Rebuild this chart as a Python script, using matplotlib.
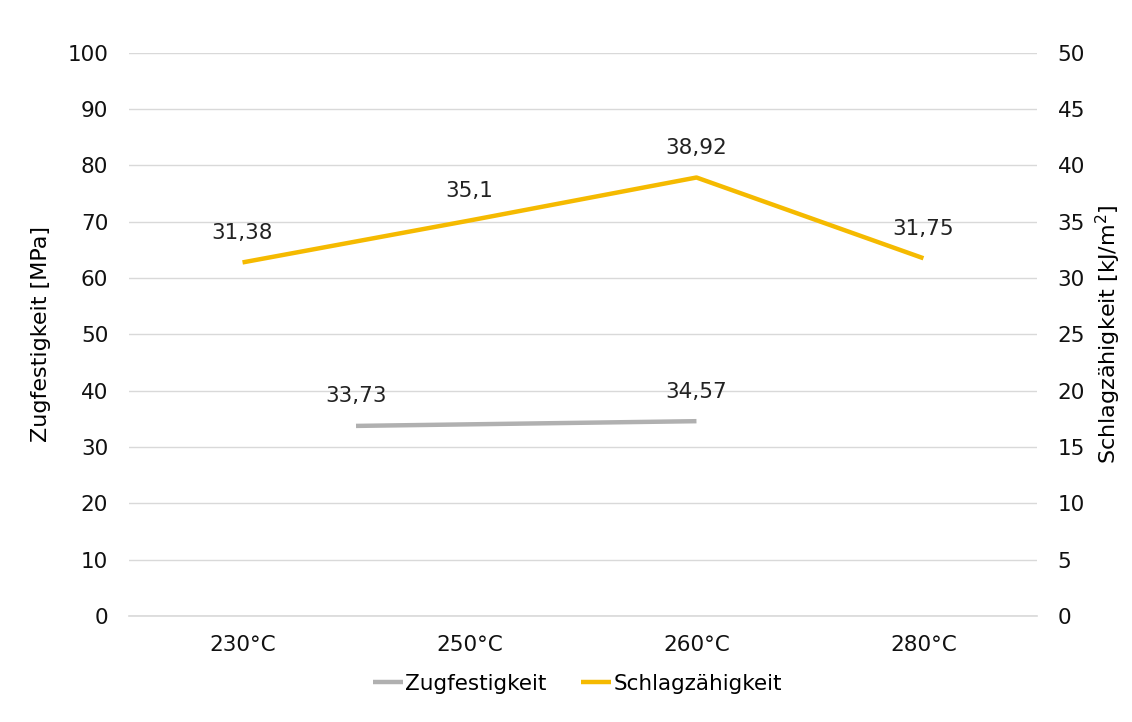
import matplotlib.pyplot as plt

# Data
temps = ['230°C', '250°C', '260°C', '280°C']
schlag = [31.38, 35.1, 38.92, 31.75]
schlag_labels = ['31,38', '35,1', '38,92', '31,75']
zug_pos = [0.5, 2.0]
zug = [33.73, 34.57]
zug_labels = ['33,73', '34,57']

plt.rcParams['font.family'] = ['DejaVu Sans']

fig = plt.figure(figsize=(11.32, 7.22), dpi=100)
ax = fig.add_axes([0.114, 0.147, 0.802, 0.78])
ax2 = ax.twinx()

grey = '#B0B0B0'
yellow = '#F5BA00'

# Zugfestigkeit on left axis
ax.plot(zug_pos, zug, color=grey, lw=3.2, solid_capstyle='butt', label='Zugfestigkeit')
for x, y, t in zip(zug_pos, zug, zug_labels):
    ax.annotate(t, (x, y), xytext=(0, 14), textcoords='offset points',
                ha='center', va='bottom', fontsize=15.5, color='#222222')

# Schlagzähigkeit on right axis
xs = list(range(len(temps)))
ax2.plot(xs, schlag, color=yellow, lw=3.2, solid_capstyle='butt', label='Schlagzähigkeit')
for x, y, t in zip(xs, schlag, schlag_labels):
    ax2.annotate(t, (x, y), xytext=(0, 14), textcoords='offset points',
                 ha='center', va='bottom', fontsize=15.5, color='#222222')

ax.set_xlim(-0.5, 3.5)
ax.set_ylim(0, 100)
ax2.set_ylim(0, 50)
ax.set_yticks(range(0, 101, 10))
ax2.set_yticks(range(0, 51, 5))
ax.set_xticks(xs)
ax.set_xticklabels(temps)

ax.grid(axis='y', color='#D9D9D9', lw=1)
ax.axhline(0, color='#D9D9D9', lw=1.2, clip_on=False, zorder=0.5)
ax.set_axisbelow(True)
for a in (ax, ax2):
    for s in a.spines.values():
        s.set_visible(False)
    a.tick_params(length=0, labelsize=15.5, colors='#111111')
ax.tick_params(axis='y', pad=15)
ax2.tick_params(axis='y', pad=15)
ax.tick_params(axis='x', pad=14)

ax.set_ylabel('Zugfestigkeit [MPa]', fontsize=16, labelpad=12)
ax2.set_ylabel('Schlagzähigkeit [kJ/m$^2$]', fontsize=16, labelpad=6)

h1, l1 = ax.get_legend_handles_labels()
h2, l2 = ax2.get_legend_handles_labels()
fig.legend(h1 + h2, l1 + l2, loc='center', bbox_to_anchor=(0.51, 0.053), ncol=2,
           frameon=False, fontsize=15.5, handlelength=1.4, handletextpad=0.1,
           columnspacing=1.6)

fig.savefig('out.png', dpi=100, facecolor='white')
